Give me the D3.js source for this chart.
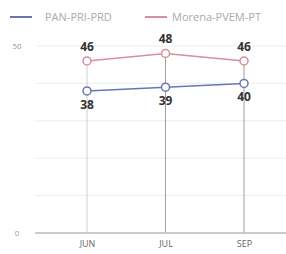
<!DOCTYPE html>
<html><head><meta charset="utf-8">
<script src="https://cdn.jsdelivr.net/npm/d3@7"></script>
<style>body{margin:0;background:#fff}svg{display:block;font-family:"Open Sans",sans-serif}</style>
</head><body>
<svg id="c" width="286" height="254"></svg>
<script>
const months = ["JUN", "JUL", "SEP"];
const seriesNames = ["PAN-PRI-PRD", "Morena-PVEM-PT"];
const panValues = [38, 39, 40];
const morenaValues = [46, 48, 46];
const yTicks = [0, 50];
const gridTicks = [0, 10, 20, 30, 40, 50];
const colors = ["#6a76b4", "#d88e9c"];

const svg = d3.select("#c");
const x = d3.scalePoint().domain(months).range([87, 244]);
const y = d3.scaleLinear().domain([0, 50]).range([233, 46]);

svg.append("g").selectAll("line").data(gridTicks).join("line")
  .attr("x1", 35).attr("x2", 286)
  .attr("y1", d => y(d)).attr("y2", d => y(d))
  .attr("stroke", "#ececec").attr("stroke-width", 1);

svg.append("g").selectAll("text").data(yTicks).join("text")
  .attr("x", 17).attr("y", d => y(d) + 3)
  .attr("text-anchor", "middle").attr("font-size", 8).attr("fill", "#999")
  .text(d => d);

svg.append("g").selectAll("line").data(months).join("line")
  .attr("x1", d => x(d)).attr("x2", d => x(d))
  .attr("y1", (d, i) => y(Math.max(panValues[i], morenaValues[i])))
  .attr("y2", y(0))
  .attr("stroke", (d, i) => i === 0 ? "#cfcfcf" : "#a0a0a0").attr("stroke-width", 1);

const xAxis = svg.append("g").attr("transform", `translate(0,${y(0)})`)
  .call(d3.axisBottom(x).tickSize(0).tickPadding(8));
xAxis.select(".domain").attr("d", "M35,0H286").attr("stroke", "#bbb").attr("stroke-width", 1.5);
xAxis.selectAll("text").attr("font-size", 9).attr("fill", "#666").attr("font-family", "Open Sans, sans-serif");

const seriesData = [panValues, morenaValues];
const line = d3.line().x((d, i) => x(months[i])).y(d => y(d));
seriesData.forEach((vals, s) => {
  svg.append("path").datum(vals).attr("d", line)
    .attr("fill", "none").attr("stroke", colors[s]).attr("stroke-width", 1.5);
  svg.append("g").selectAll("circle").data(vals).join("circle")
    .attr("cx", (d, i) => x(months[i])).attr("cy", d => y(d)).attr("r", 4)
    .attr("fill", "#fff").attr("stroke", colors[s]).attr("stroke-width", 1.5);
  svg.append("g").selectAll("text").data(vals).join("text")
    .attr("x", (d, i) => x(months[i]))
    .attr("y", d => s === 0 ? y(d) + 18 : y(d) - 10)
    .attr("text-anchor", "middle").attr("font-size", 12).attr("font-weight", "bold")
    .attr("fill", "#333").text(d => d);
});

const lg = svg.append("g");
const legX = [10, 145];
const legTextX = [45, 172];
seriesNames.forEach((n, i) => {
  lg.append("line").attr("x1", legX[i]).attr("x2", legX[i] + 22).attr("y1", 17).attr("y2", 17)
    .attr("stroke", colors[i]).attr("stroke-width", 2);
  lg.append("text").attr("x", legTextX[i]).attr("y", 21).attr("font-size", 11)
    .attr("fill", "#aaa").text(n);
});
</script>
</body></html>
